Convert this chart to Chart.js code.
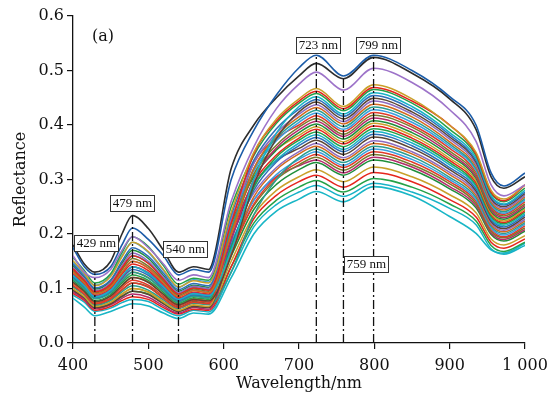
<!DOCTYPE html>
<html><head><meta charset="utf-8">
<script src="https://cdn.jsdelivr.net/npm/chart.js@4.4.0/dist/chart.umd.min.js"></script>
<style>html,body{margin:0;padding:0;background:#fff;}canvas{display:block;}</style>
</head><body>
<canvas id="c" width="549" height="393"></canvas>
<script>
const wavelengths = [400,415,429,450,465,479,500,520,540,560,580,610,640,670,700,723,759,799,850,900,935,955,972,1000];

const spectrum01 = [0.175,0.140,0.126,0.140,0.180,0.211,0.190,0.160,0.125,0.135,0.130,0.300,0.390,0.455,0.505,0.528,0.490,0.528,0.500,0.452,0.400,0.312,0.288,0.312];
const spectrum02 = [0.180,0.145,0.130,0.150,0.200,0.234,0.210,0.170,0.130,0.140,0.135,0.320,0.400,0.450,0.490,0.513,0.485,0.524,0.495,0.448,0.392,0.305,0.284,0.305];
const spectrum03 = [0.160,0.130,0.120,0.135,0.170,0.195,0.175,0.145,0.115,0.125,0.120,0.260,0.360,0.430,0.475,0.497,0.464,0.504,0.478,0.428,0.370,0.290,0.270,0.290];
const spectrum04 = [0.151,0.128,0.105,0.122,0.158,0.185,0.168,0.135,0.103,0.114,0.110,0.240,0.350,0.411,0.448,0.467,0.434,0.474,0.448,0.399,0.350,0.280,0.264,0.290];
const spectrum05 = [0.136,0.115,0.094,0.108,0.138,0.160,0.146,0.117,0.090,0.101,0.097,0.220,0.347,0.407,0.444,0.462,0.430,0.469,0.444,0.400,0.347,0.277,0.261,0.290];
const spectrum06 = [0.157,0.133,0.110,0.127,0.166,0.195,0.177,0.142,0.108,0.119,0.115,0.250,0.344,0.403,0.440,0.458,0.426,0.465,0.440,0.392,0.344,0.275,0.259,0.284];
const spectrum07 = [0.124,0.105,0.085,0.097,0.122,0.140,0.128,0.103,0.080,0.091,0.087,0.170,0.300,0.385,0.434,0.452,0.420,0.459,0.434,0.386,0.339,0.271,0.255,0.280];
const spectrum08 = [0.145,0.123,0.101,0.116,0.150,0.175,0.159,0.128,0.098,0.109,0.105,0.235,0.335,0.393,0.429,0.447,0.416,0.454,0.429,0.382,0.335,0.268,0.253,0.277];
const spectrum09 = [0.112,0.095,0.076,0.086,0.106,0.120,0.111,0.089,0.070,0.080,0.077,0.160,0.290,0.375,0.424,0.442,0.411,0.449,0.424,0.378,0.332,0.265,0.250,0.274];
const spectrum10 = [0.139,0.118,0.096,0.111,0.142,0.165,0.150,0.121,0.093,0.104,0.100,0.225,0.330,0.385,0.420,0.437,0.406,0.444,0.420,0.374,0.328,0.262,0.247,0.271];
const spectrum11 = [0.130,0.110,0.090,0.103,0.130,0.150,0.137,0.110,0.085,0.096,0.092,0.200,0.320,0.380,0.415,0.432,0.402,0.438,0.415,0.369,0.324,0.259,0.244,0.268];
const spectrum12 = [0.118,0.100,0.081,0.092,0.114,0.130,0.119,0.096,0.075,0.086,0.082,0.210,0.320,0.376,0.410,0.427,0.397,0.433,0.410,0.365,0.320,0.256,0.241,0.265];
const spectrum13 = [0.148,0.127,0.106,0.124,0.160,0.185,0.166,0.133,0.102,0.116,0.112,0.230,0.316,0.371,0.405,0.422,0.392,0.428,0.405,0.361,0.317,0.253,0.238,0.262];
const spectrum14 = [0.106,0.090,0.072,0.081,0.098,0.110,0.102,0.082,0.065,0.075,0.072,0.210,0.330,0.375,0.400,0.417,0.388,0.423,0.400,0.357,0.313,0.250,0.236,0.259];
const spectrum15 = [0.133,0.113,0.092,0.105,0.134,0.155,0.141,0.114,0.088,0.099,0.095,0.205,0.310,0.363,0.396,0.412,0.383,0.418,0.396,0.352,0.309,0.247,0.233,0.255];
const spectrum16 = [0.126,0.106,0.086,0.098,0.120,0.140,0.129,0.104,0.081,0.092,0.088,0.190,0.300,0.358,0.391,0.407,0.379,0.413,0.391,0.348,0.305,0.244,0.230,0.252];
const spectrum17 = [0.142,0.120,0.099,0.114,0.146,0.170,0.155,0.124,0.095,0.106,0.102,0.220,0.305,0.354,0.386,0.402,0.374,0.408,0.386,0.344,0.302,0.241,0.227,0.249];
const spectrum18 = [0.100,0.085,0.067,0.075,0.090,0.100,0.093,0.075,0.060,0.070,0.067,0.200,0.310,0.355,0.381,0.397,0.369,0.403,0.381,0.339,0.298,0.238,0.224,0.246];
const spectrum19 = [0.127,0.108,0.087,0.100,0.126,0.145,0.133,0.107,0.083,0.093,0.090,0.200,0.295,0.345,0.376,0.392,0.365,0.398,0.376,0.335,0.294,0.235,0.221,0.243];
const spectrum20 = [0.115,0.098,0.078,0.089,0.110,0.125,0.115,0.093,0.073,0.083,0.080,0.175,0.285,0.341,0.372,0.387,0.360,0.393,0.372,0.331,0.290,0.232,0.219,0.240];
const spectrum21 = [0.138,0.116,0.095,0.107,0.136,0.160,0.147,0.118,0.091,0.102,0.098,0.210,0.290,0.336,0.367,0.382,0.355,0.388,0.367,0.327,0.287,0.229,0.216,0.237];
const spectrum22 = [0.121,0.103,0.083,0.094,0.118,0.135,0.124,0.100,0.078,0.088,0.085,0.180,0.280,0.332,0.362,0.377,0.351,0.383,0.362,0.322,0.283,0.226,0.213,0.234];
const spectrum23 = [0.097,0.083,0.065,0.072,0.086,0.095,0.089,0.072,0.058,0.067,0.065,0.190,0.290,0.335,0.357,0.372,0.346,0.378,0.357,0.318,0.279,0.223,0.210,0.231];
const spectrum24 = [0.132,0.111,0.089,0.102,0.128,0.150,0.138,0.111,0.086,0.097,0.093,0.195,0.275,0.322,0.351,0.366,0.340,0.371,0.351,0.313,0.275,0.220,0.207,0.227];
const spectrum25 = [0.110,0.094,0.075,0.087,0.105,0.120,0.112,0.090,0.071,0.081,0.078,0.170,0.268,0.318,0.347,0.361,0.336,0.366,0.347,0.309,0.271,0.217,0.204,0.224];
const spectrum26 = [0.103,0.088,0.069,0.078,0.094,0.105,0.097,0.079,0.063,0.073,0.070,0.130,0.235,0.300,0.340,0.356,0.331,0.361,0.342,0.304,0.267,0.214,0.201,0.221];
const spectrum27 = [0.122,0.104,0.084,0.096,0.121,0.140,0.127,0.102,0.079,0.090,0.086,0.185,0.262,0.309,0.337,0.351,0.326,0.356,0.337,0.300,0.263,0.211,0.198,0.218];
const spectrum28 = [0.109,0.093,0.074,0.083,0.102,0.115,0.106,0.086,0.068,0.078,0.075,0.165,0.255,0.304,0.332,0.346,0.322,0.351,0.332,0.296,0.260,0.208,0.195,0.215];
const spectrum29 = [0.120,0.101,0.082,0.093,0.113,0.130,0.120,0.097,0.076,0.087,0.083,0.175,0.252,0.300,0.327,0.341,0.317,0.346,0.327,0.292,0.256,0.205,0.193,0.211];
const spectrum30 = [0.094,0.080,0.063,0.070,0.082,0.090,0.084,0.068,0.055,0.065,0.062,0.170,0.262,0.305,0.325,0.336,0.312,0.341,0.323,0.287,0.252,0.202,0.190,0.208];
const spectrum31 = [0.104,0.089,0.071,0.080,0.097,0.110,0.103,0.083,0.066,0.076,0.073,0.160,0.245,0.291,0.318,0.331,0.308,0.336,0.318,0.283,0.248,0.199,0.187,0.205];
const spectrum32 = [0.098,0.084,0.066,0.074,0.089,0.100,0.094,0.076,0.060,0.069,0.066,0.150,0.235,0.280,0.305,0.318,0.296,0.323,0.305,0.272,0.239,0.191,0.180,0.197];
const spectrum33 = [0.091,0.078,0.060,0.067,0.078,0.085,0.080,0.065,0.053,0.062,0.060,0.140,0.228,0.271,0.296,0.308,0.286,0.313,0.296,0.263,0.231,0.185,0.174,0.191];
const spectrum34 = [0.096,0.082,0.064,0.071,0.085,0.095,0.090,0.073,0.058,0.068,0.065,0.140,0.220,0.262,0.286,0.298,0.277,0.302,0.286,0.255,0.224,0.179,0.168,0.185];
const spectrum35 = [0.088,0.075,0.058,0.064,0.074,0.080,0.076,0.061,0.050,0.060,0.057,0.130,0.213,0.254,0.277,0.289,0.269,0.293,0.277,0.247,0.217,0.173,0.163,0.179];
const spectrum36 = [0.082,0.066,0.050,0.058,0.066,0.072,0.068,0.055,0.045,0.055,0.053,0.120,0.200,0.242,0.264,0.278,0.259,0.287,0.270,0.232,0.201,0.171,0.165,0.183];

const spectra = [spectrum01,spectrum02,spectrum03,spectrum04,spectrum05,spectrum06,spectrum07,spectrum08,spectrum09,spectrum10,
  spectrum11,spectrum12,spectrum13,spectrum14,spectrum15,spectrum16,spectrum17,spectrum18,spectrum19,spectrum20,
  spectrum21,spectrum22,spectrum23,spectrum24,spectrum25,spectrum26,spectrum27,spectrum28,spectrum29,spectrum30,
  spectrum31,spectrum32,spectrum33,spectrum34,spectrum35,spectrum36];

const markerWavelengths = [429,479,540,723,759,799];
const markerTops = [0.128,0.234,0.125,0.528,0.490,0.528];
const markerLabels = ['429 nm','479 nm','540 nm','723 nm','759 nm','799 nm'];

const xTicks = [400,500,600,700,800,900,1000];
const xTickLabels = ['400','500','600','700','800','900','1 000'];

// styling
const specialColors = {0:'#1b5ca8',1:'#2d2d2d',2:'#9d73c9',35:'#19b6c6'};
const palette = ['#c9a02a','#e5261e','#24a148','#17b2c6','#2f6fb8','#5c4535','#8e6cc0','#d2691e','#2a9d8f','#3b9fe0','#e23a2a','#7b7a2b','#b32b6b','#1f8f3a'];
const labelSpots = [{dx:1.5,v:0.184},{dx:-1,v:0.257},{dx:7,v:0.173},{dx:2,v:0.547},{dx:23,v:0.145},{dx:4.5,v:0.547}];

const datasets = [];
markerWavelengths.forEach((w,i)=>{
  datasets.push({data:[{x:w,y:0},{x:w,y:markerTops[i]}],borderColor:'#111',borderWidth:1.3,borderDash:[9,3,2,3],pointRadius:0,tension:0,fill:false,order:0});
});
spectra.forEach((s,k)=>{
  const col = specialColors[k] || palette[(k-3)%palette.length];
  datasets.push({data:wavelengths.map((w,i)=>({x:w,y:s[i]})),borderColor:col,borderWidth:(k<3||k===35?1.6:1.5),pointRadius:0,cubicInterpolationMode:'monotone',fill:false,order:1});
});

const annot = {
  id:'annot',
  beforeDraw(chart){const c=chart.ctx;c.save();c.fillStyle='#fff';c.fillRect(0,0,chart.width,chart.height);c.restore();},
  afterDraw(chart){
    const c=chart.ctx, xs=chart.scales.x, ys=chart.scales.y;
    c.save();
    c.fillStyle='#111';
    c.font='16px "DejaVu Serif"';
    c.textAlign='center';c.textBaseline='alphabetic';
    c.fillText('(a)',103,40.5);
    c.fillText('Wavelength/nm',(xs.left+xs.right)/2,388);
    c.save();c.translate(25,(ys.top+ys.bottom)/2);c.rotate(-Math.PI/2);c.fillText('Reflectance',0,0);c.restore();
    c.font='13px "Liberation Serif"';
    c.textBaseline='middle';
    c.lineWidth=1;c.strokeStyle='#333';
    labelSpots.forEach((p,i)=>{
      const t=markerLabels[i];
      const w=Math.round(c.measureText(t).width+5), h=16;
      const cx=xs.getPixelForValue(markerWavelengths[i])+p.dx;
      const cy=ys.getPixelForValue(p.v);
      const x0=Math.round(cx-w/2), y0=Math.round(cy-h/2);
      c.fillStyle='#fff';c.fillRect(x0,y0,w,h);
      c.strokeRect(x0+0.5,y0+0.5,w,h);
      c.fillStyle='#111';c.fillText(t,x0+w/2+0.5,y0+h/2+1);
    });
    c.restore();
  }
};

new Chart(document.getElementById('c'),{
  type:'line',
  data:{datasets},
  options:{
    responsive:false,animation:false,devicePixelRatio:1,
    layout:{padding:{left:0,right:24,top:16,bottom:0}},
    plugins:{legend:{display:false},tooltip:{enabled:false}},
    scales:{
      x:{type:'linear',min:400,max:1000,
        afterBuildTicks:(sc)=>{sc.ticks=xTicks.map(v=>({value:v}));},
        afterFit:(sc)=>{sc.height=50;sc.paddingLeft=0;sc.paddingRight=0;},
        ticks:{autoSkip:false,maxRotation:0,padding:7,color:'#111',font:{family:'DejaVu Serif',size:16},
          callback:(v)=>{const i=xTicks.indexOf(v);return i>=0?xTickLabels[i]:'';}},
        grid:{drawOnChartArea:false,drawTicks:true,tickLength:6,color:'#111',lineWidth:1.2},
        border:{color:'#111',width:1.3}},
      y:{type:'linear',min:0,max:0.6,
        afterFit:(sc)=>{sc.width=73;sc.paddingTop=0;sc.paddingBottom=0;},
        ticks:{stepSize:0.1,padding:3,color:'#111',font:{family:'DejaVu Serif',size:16},callback:(v)=>Number(v).toFixed(1)},
        grid:{drawOnChartArea:false,drawTicks:true,tickLength:6,color:'#111',lineWidth:1.2},
        border:{color:'#111',width:1.3}}
    }
  },
  plugins:[annot]
});
</script>
</body></html>
